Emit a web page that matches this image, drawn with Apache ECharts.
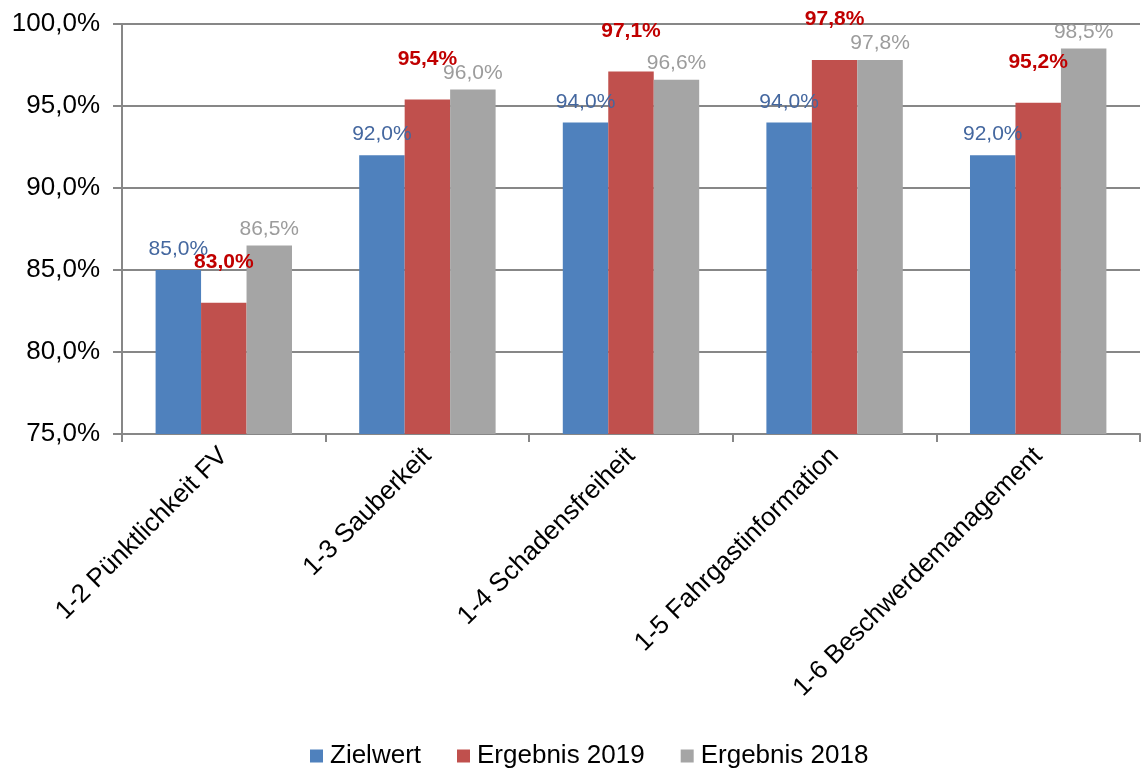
<!DOCTYPE html>
<html>
    <head>
        <title>Zielwert und Ergebnisse</title>
        <meta charset="UTF-8">
        <script src="https://cdn.jsdelivr.net/npm/echarts@6/dist/echarts.min.js"></script>
        <style>
            body { margin: 0; background-color: #fff; }
            #main { width: 1141px; height: 774px; }
        </style>
    </head>
    <body>
        <div id="main"></div>
        <script>
            var kategorien = ['1-2 Pünktlichkeit FV', '1-3 Sauberkeit', '1-4 Schadensfreiheit', '1-5 Fahrgastinformation', '1-6 Beschwerdemanagement'];
            var zielwert = [85.0, 92.0, 94.0, 94.0, 92.0];
            var ergebnis2019 = [83.0, 95.4, 97.1, 97.8, 95.2];
            var ergebnis2018 = [86.5, 96.0, 96.6, 97.8, 98.5];
            var yTicks = [75, 80, 85, 90, 95, 100];

            function fmt(v) {
                return v.toFixed(1).replace('.', ',') + '%';
            }

            var chart = echarts.init(document.getElementById('main'));
            var font = 'Liberation Sans, Arial, sans-serif';

            // gemeinsame Einstellungen der Säulen
            function serie(name, data, color, labelColor, bold, dist) {
                return {
                    name: name,
                    type: 'bar',
                    data: data,
                    barGap: '0%',
                    barCategoryGap: '33%',
                    itemStyle: { color: color },
                    label: {
                        show: true,
                        position: 'top',
                        distance: dist,
                        color: labelColor,
                        fontFamily: font,
                        fontSize: 21,
                        fontWeight: bold ? 'bold' : 'normal',
                        formatter: function (p) { return fmt(p.value); }
                    }
                };
            }

            var option = {
                animation: false,
                textStyle: { fontFamily: font },
                grid: { left: 122, right: 1, top: 24, bottom: 340, containLabel: false },
                legend: {
                    bottom: 0,
                    left: 305,
                    itemWidth: 13,
                    itemHeight: 13,
                    itemGap: 36,
                    icon: 'rect',
                    textStyle: { fontSize: 26, color: '#000', fontFamily: font, padding: [0, 0, 0, 2] },
                    data: ['Zielwert', 'Ergebnis 2019', 'Ergebnis 2018']
                },
                xAxis: {
                    type: 'category',
                    data: kategorien,
                    axisLine: { lineStyle: { color: '#878787', width: 2 } },
                    axisTick: { show: true, alignWithLabel: false, length: 8, lineStyle: { color: '#878787', width: 2 } },
                    axisLabel: {
                        interval: 0,
                        rotate: 45,
                        margin: 18,
                        color: '#000',
                        fontSize: 26,
                        fontFamily: font
                    }
                },
                yAxis: {
                    type: 'value',
                    min: yTicks[0],
                    max: yTicks[yTicks.length - 1],
                    interval: 5,
                    axisLine: { show: true, lineStyle: { color: '#878787', width: 2 } },
                    axisTick: { show: true, length: 9, lineStyle: { color: '#878787', width: 2 } },
                    splitLine: { lineStyle: { color: '#878787', width: 2 } },
                    axisLabel: {
                        color: '#000',
                        fontSize: 26,
                        fontFamily: font,
                        margin: 22,
                        formatter: function (v) { return fmt(v); }
                    }
                },
                series: [
                    serie('Zielwert', zielwert, '#4F81BD', '#44679F', false, 10),
                    serie('Ergebnis 2019', ergebnis2019, '#C0504D', '#C00000', true, 30),
                    serie('Ergebnis 2018', ergebnis2018, '#A5A5A5', '#9C9C9C', false, 6)
                ]
            };
            chart.setOption(option);
        </script>
    </body>
</html>
